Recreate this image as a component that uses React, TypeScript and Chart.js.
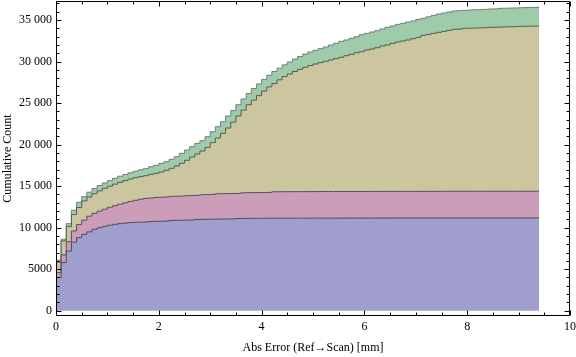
import React, { useEffect, useRef } from "react";
import { Chart, registerables } from "chart.js";

Chart.register(...registerables);

// Histogram bin edges (Abs Error, mm)
const binEdges = [
  0, 0.1, 0.2, 0.3, 0.4, 0.5, 0.6, 0.7, 0.8, 0.9,
  1.0, 1.1, 1.2, 1.3, 1.4, 1.5, 1.6, 1.7, 1.8, 1.9,
  2.0, 2.1, 2.2, 2.3, 2.4, 2.5, 2.6, 2.7, 2.8, 2.9,
  3.0, 3.1, 3.2, 3.3, 3.4, 3.5, 3.6, 3.7, 3.8, 3.9,
  4.0, 4.1, 4.2, 4.3, 4.4, 4.5, 4.6, 4.7, 4.8, 4.9,
  5.0, 5.1, 5.2, 5.3, 5.4, 5.5, 5.6, 5.7, 5.8, 5.9,
  6.0, 6.1, 6.2, 6.3, 6.4, 6.5, 6.6, 6.7, 6.8, 6.9,
  7.0, 7.1, 7.2, 7.3, 7.4, 7.5, 7.6, 7.7, 7.8, 7.9,
  8.0, 8.1, 8.2, 8.3, 8.4, 8.5, 8.6, 8.7, 8.8, 8.9,
  9.0, 9.1, 9.2, 9.3, 9.4,
];

// Stacked cumulative levels (top edge of each band), one value per bin
const blueLevel = [
  2200, 4000, 5800, 7170, 8250, 8800, 9180, 9490, 9800, 9990,
  10160, 10290, 10400, 10480, 10550, 10600, 10640, 10660, 10680, 10740,
  10760, 10770, 10790, 10860, 10880, 10890, 10900, 10920, 10990, 11000,
  11010, 11020, 11030, 11040, 11050, 11060, 11100, 11110, 11115, 11120,
  11125, 11128, 11130, 11132, 11134, 11136, 11138, 11140, 11141, 11142,
  11143, 11144, 11145, 11146, 11147, 11148, 11149, 11150, 11150, 11151,
  11151, 11152, 11152, 11153, 11153, 11154, 11154, 11155, 11155, 11155,
  11156, 11156, 11156, 11157, 11157, 11157, 11158, 11158, 11158, 11158,
  11159, 11159, 11159, 11159, 11159, 11160, 11160, 11160, 11160, 11160,
  11160, 11160, 11160, 11160,
];

const pinkLevel = [
  2640, 4580, 6720, 8310, 9600, 10370, 10900, 11380, 11720, 11980,
  12220, 12460, 12650, 12830, 12990, 13150, 13290, 13420, 13520, 13560,
  13630, 13660, 13690, 13760, 13780, 13800, 13850, 13870, 13890, 13960,
  13980, 14000, 14080, 14090, 14100, 14110, 14120, 14200, 14210, 14220,
  14225, 14230, 14240, 14320, 14325, 14330, 14332, 14334, 14336, 14338,
  14340, 14342, 14344, 14346, 14348, 14350, 14352, 14354, 14355, 14356,
  14357, 14358, 14359, 14360, 14361, 14362, 14363, 14364, 14365, 14366,
  14367, 14368, 14369, 14370, 14371, 14372, 14373, 14374, 14375, 14375,
  14376, 14376, 14377, 14377, 14378, 14378, 14379, 14379, 14380, 14380,
  14380, 14380, 14380, 14380,
];

const oliveLevel = [
  3030, 5840, 8400, 10140, 11580, 12420, 13210, 13690, 14090, 14430,
  14730, 14990, 15230, 15460, 15660, 15850, 16010, 16140, 16257, 16418,
  16538, 16699, 16900, 17140, 17421, 17742, 18103, 18505, 18866, 19227,
  19669, 20230, 20792, 21354, 21996, 22700, 23450, 24150, 24800, 25350,
  25900, 26450, 26950, 27350, 27800, 28200, 28500, 28800, 29050, 29300,
  29520, 29700, 29870, 30030, 30190, 30344, 30504, 30705, 30865, 31066,
  31186, 31387, 31507, 31668, 31868, 31989, 32190, 32350, 32471, 32591,
  32752, 32912, 33153, 33273, 33394, 33514, 33635, 33755, 33876, 33900,
  33996, 34010, 34030, 34050, 34070, 34116, 34130, 34150, 34170, 34190,
  34200, 34237, 34250, 34260,
];

const greenLevel = [
  3280, 6090, 8610, 10480, 12100, 13050, 13730, 14270, 14710, 15070,
  15380, 15660, 15940, 16190, 16400, 16600, 16790, 16960, 17100, 17341,
  17502, 17742, 17943, 18224, 18545, 18946, 19348, 19749, 20150, 20471,
  20953, 21555, 22157, 22758, 23441, 24100, 24800, 25500, 26150, 26750,
  27300, 27850, 28350, 28800, 29200, 29600, 29950, 30300, 30600, 30900,
  31150, 31350, 31550, 31750, 31990, 32190, 32431, 32591, 32792, 32992,
  33233, 33394, 33554, 33715, 33915, 34116, 34277, 34477, 34598, 34758,
  34879, 35080, 35200, 35380, 35561, 35722, 35842, 35963, 36083, 36123,
  36163, 36203, 36243, 36260, 36280, 36323, 36340, 36404, 36420, 36440,
  36450, 36484, 36500, 36520,
];

const xTickValues = [0, 2, 4, 6, 8, 10];
const xTickLabels = ["0", "2", "4", "6", "8", "10"];
const yTickValues = [0, 5000, 10000, 15000, 20000, 25000, 30000, 35000];
const yTickLabels = ["0", "5000", "10 000", "15 000", "20 000", "25 000", "30 000", "35 000"];

const xTitle = "Abs Error (Ref\u2192Scan) [mm]";
const yTitle = "Cumulative Count";

const FONT = "'Liberation Serif', 'Times New Roman', serif";

function toSteps(levels: number[]) {
  return binEdges.map((x, i) => ({ x, y: levels[Math.min(i, levels.length - 1)] }));
}

const framePlugin = {
  id: "mmaFrame",
  afterDraw(chart: any) {
    const { ctx, chartArea: a } = chart;
    const xs = chart.scales.x;
    const ys = chart.scales.y;
    const L = Math.round(a.left) + 0.5;
    const R = Math.round(a.right) - 0.5;
    const T = Math.round(a.top) + 0.5;
    const B = Math.round(a.bottom) - 0.5;
    ctx.save();
    ctx.strokeStyle = "#000";
    ctx.lineWidth = 1;
    ctx.beginPath();
    ctx.rect(L, T, R - L, B - T);
    // x ticks
    for (let k = 0; k <= 20; k++) {
      const v = k * 0.5;
      const major = k % 4 === 0;
      const len = major ? 5 : 3;
      const px = Math.round(xs.getPixelForValue(v)) + 0.5;
      ctx.moveTo(px, B);
      ctx.lineTo(px, B - len);
      ctx.moveTo(px, T);
      ctx.lineTo(px, T + len);
    }
    // y ticks
    for (let k = 0; k <= 37; k++) {
      const v = k * 1000;
      const major = k % 5 === 0;
      const len = major ? 5 : 3;
      const py = Math.round(ys.getPixelForValue(v)) + 0.5;
      ctx.moveTo(L, py);
      ctx.lineTo(L + len, py);
      ctx.moveTo(R, py);
      ctx.lineTo(R - len, py);
    }
    ctx.stroke();
    ctx.restore();
  },
};

export default function App() {
  const ref = useRef<HTMLCanvasElement | null>(null);

  useEffect(() => {
    if (!ref.current) return;
    const bands = [
      { data: blueLevel, bg: "rgb(160,158,204)", line: "rgba(70,70,85,0.95)", fill: "origin" as any },
      { data: pinkLevel, bg: "rgb(204,157,184)", line: "rgba(80,72,85,0.95)", fill: "-1" as any },
      { data: oliveLevel, bg: "rgb(203,198,160)", line: "rgba(70,88,78,0.95)", fill: "-1" as any },
      { data: greenLevel, bg: "rgb(158,203,170)", line: "rgba(115,120,118,0.95)", fill: "-1" as any },
    ];
    const chart = new Chart(ref.current, {
      type: "line",
      data: {
        datasets: bands.map((b) => ({
          data: toSteps(b.data),
          stepped: "after",
          fill: b.fill,
          backgroundColor: b.bg,
          borderColor: b.line,
          borderWidth: 1,
          pointRadius: 0,
          tension: 0,
        })),
      },
      options: {
        animation: false,
        responsive: false,
        devicePixelRatio: 1,
        layout: { padding: { left: 0, top: 1, right: 6, bottom: 0 } },
        plugins: {
          legend: { display: false },
          tooltip: { enabled: false },
        },
        scales: {
          x: {
            type: "linear",
            min: 0,
            max: 10,
            grid: { display: false, drawTicks: false },
            border: { display: false },
            afterBuildTicks: (s: any) => {
              s.ticks = xTickValues.map((v) => ({ value: v }));
            },
            afterFit: (s: any) => {
              s.height = 41;
              s.paddingLeft = 0;
              s.paddingRight = 0;
            },
            ticks: {
              autoSkip: false,
              maxRotation: 0,
              padding: 4,
              color: "#000",
              font: { family: FONT, size: 12 },
              callback: (v: any) => xTickLabels[xTickValues.indexOf(Number(v))] ?? "",
            },
            title: {
              display: true,
              text: xTitle,
              color: "#000",
              font: { family: FONT, size: 12 },
              padding: { top: 0, bottom: 2 },
            },
          },
          y: {
            type: "linear",
            min: -640,
            max: 37290,
            grid: { display: false, drawTicks: false },
            border: { display: false },
            afterBuildTicks: (s: any) => {
              s.ticks = yTickValues.map((v) => ({ value: v }));
            },
            afterFit: (s: any) => {
              s.width = 56;
              s.paddingTop = 0;
              s.paddingBottom = 0;
            },
            ticks: {
              autoSkip: false,
              padding: 4,
              color: "#000",
              font: { family: FONT, size: 12 },
              callback: (v: any) => yTickLabels[yTickValues.indexOf(Number(v))] ?? "",
            },
            title: {
              display: true,
              text: yTitle,
              color: "#000",
              font: { family: FONT, size: 12 },
              padding: { top: 1, bottom: 0 },
            },
          },
        },
      },
      plugins: [framePlugin],
    });
    return () => chart.destroy();
  }, []);

  return (
    <div style={{ position: "absolute", left: 0, top: 0, width: 576, height: 357, background: "#fff" }}>
      <canvas ref={ref} width={576} height={357} style={{ display: "block" }} />
    </div>
  );
}
